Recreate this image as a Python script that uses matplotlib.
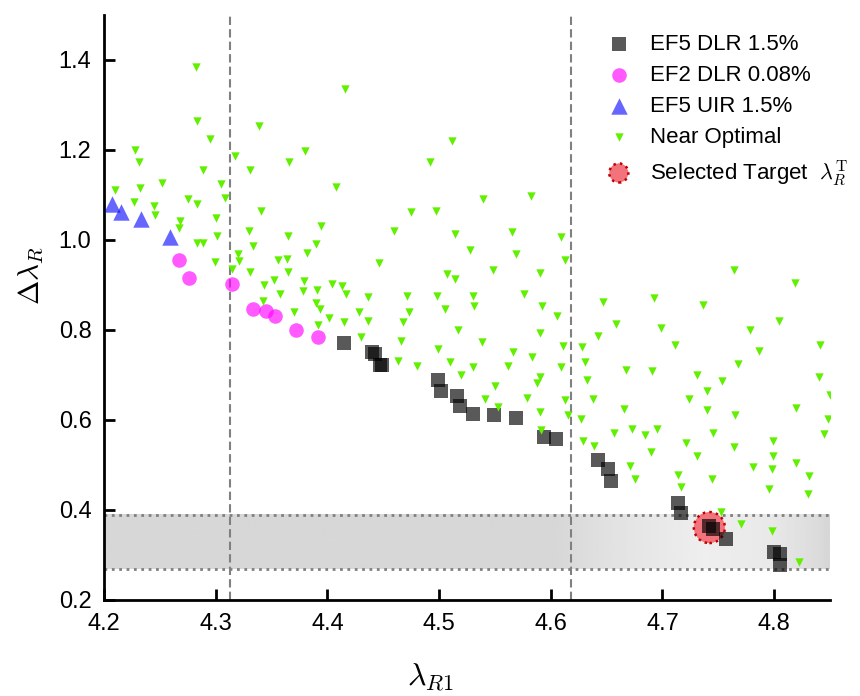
import numpy as np
import matplotlib
matplotlib.use("Agg")
import matplotlib.pyplot as plt

plt.rcParams['font.family'] = ['Liberation Sans', 'DejaVu Sans']
plt.rcParams['mathtext.fontset'] = 'cm'

# EF5 DLR 1.5%
sq_x = [4.415, 4.440, 4.443, 4.447, 4.449, 4.499, 4.502, 4.516, 4.519, 4.530, 4.549,
        4.569, 4.594, 4.605, 4.642, 4.651, 4.654, 4.714, 4.717, 4.742, 4.745, 4.757,
        4.800, 4.805, 4.805]
sq_y = [0.771, 0.752, 0.747, 0.722, 0.722, 0.689, 0.664, 0.654, 0.631, 0.613, 0.611,
        0.604, 0.563, 0.558, 0.511, 0.491, 0.464, 0.415, 0.393, 0.364, 0.358, 0.336,
        0.307, 0.302, 0.278]

# EF2 DLR 0.08%
ci_x = [4.267, 4.276, 4.315, 4.333, 4.345, 4.353, 4.372, 4.392]
ci_y = [0.955, 0.916, 0.902, 0.847, 0.843, 0.832, 0.800, 0.784]

# EF5 UIR 1.5%
tr_x = [4.207, 4.215, 4.233, 4.259]
tr_y = [1.081, 1.063, 1.046, 1.007]

# Near Optimal
near_x = [4.282, 4.283, 4.339, 4.295, 4.228, 4.380, 4.317, 4.231, 4.366, 4.289, 4.331,
          4.252, 4.305, 4.408, 4.210, 4.232, 4.308, 4.275, 4.227, 4.283, 4.245, 4.341,
          4.246, 4.300, 4.268, 4.267, 4.394, 4.330, 4.301, 4.365,
          4.283, 4.289, 4.333, 4.390, 4.320, 4.382, 4.299, 4.321, 4.356, 4.364, 4.315,
          4.331, 4.365, 4.352, 4.343, 4.379, 4.404, 4.378, 4.391, 4.358, 4.342, 4.390,
          4.393, 4.370, 4.401, 4.392,
          4.416, 4.512, 4.492, 4.539, 4.582, 4.475, 4.497, 4.460, 4.514, 4.565, 4.609,
          4.528, 4.569, 4.613, 4.446, 4.548, 4.590, 4.507, 4.514, 4.413, 4.417, 4.436,
          4.471, 4.498, 4.530, 4.576, 4.531, 4.505, 4.592, 4.473, 4.428, 4.415, 4.436,
          4.468, 4.606, 4.517, 4.590, 4.430, 4.466, 4.538, 4.499, 4.566, 4.611, 4.583,
          4.463, 4.510, 4.480, 4.530, 4.562, 4.609, 4.520, 4.590, 4.588, 4.550, 4.541,
          4.579, 4.613, 4.553, 4.590, 4.615, 4.591,
          4.764, 4.819, 4.647, 4.692, 4.736, 4.658, 4.699, 4.778, 4.804, 4.642, 4.628,
          4.711, 4.841, 4.786, 4.631, 4.667, 4.691, 4.768, 4.731, 4.632, 4.753, 4.840,
          4.740, 4.638, 4.724, 4.850, 4.666, 4.740, 4.820, 4.627, 4.765, 4.848,
          4.657, 4.673, 4.684, 4.695, 4.745, 4.845, 4.629, 4.639, 4.690, 4.721, 4.764,
          4.799, 4.731, 4.799, 4.671, 4.781, 4.798, 4.820, 4.675, 4.714, 4.744, 4.831,
          4.717, 4.795, 4.830, 4.752, 4.770, 4.798, 4.822]
near_y = [1.384, 1.265, 1.254, 1.224, 1.200, 1.198, 1.187, 1.173, 1.173, 1.156, 1.156,
          1.127, 1.124, 1.118, 1.112, 1.116, 1.094, 1.090, 1.084, 1.079, 1.075, 1.065,
          1.055, 1.049, 1.043, 1.027, 1.030, 1.020, 1.009, 1.009,
          0.993, 0.993, 0.987, 0.990, 0.968, 0.970, 0.952, 0.953, 0.956, 0.958, 0.935,
          0.928, 0.928, 0.911, 0.900, 0.908, 0.902, 0.886, 0.889, 0.880, 0.864, 0.861,
          0.847, 0.839, 0.827, 0.810,
          1.336, 1.219, 1.173, 1.090, 1.097, 1.063, 1.064, 1.019, 1.013, 1.018, 1.006,
          0.978, 0.968, 0.956, 0.949, 0.933, 0.926, 0.925, 0.913, 0.898, 0.880, 0.874,
          0.875, 0.876, 0.876, 0.880, 0.853, 0.847, 0.853, 0.839, 0.839, 0.818, 0.819,
          0.818, 0.831, 0.800, 0.793, 0.785, 0.776, 0.773, 0.758, 0.752, 0.764, 0.741,
          0.731, 0.728, 0.719, 0.718, 0.719, 0.718, 0.699, 0.696, 0.682, 0.676, 0.647,
          0.648, 0.644, 0.629, 0.618, 0.611, 0.578,
          0.933, 0.905, 0.862, 0.870, 0.855, 0.813, 0.804, 0.801, 0.820, 0.787, 0.763,
          0.767, 0.767, 0.753, 0.729, 0.712, 0.708, 0.724, 0.701, 0.688, 0.687, 0.695,
          0.665, 0.647, 0.646, 0.656, 0.624, 0.622, 0.626, 0.602, 0.610, 0.602,
          0.571, 0.579, 0.567, 0.581, 0.571, 0.570, 0.553, 0.542, 0.529, 0.548, 0.539,
          0.553, 0.521, 0.519, 0.498, 0.495, 0.491, 0.504, 0.468, 0.477, 0.470, 0.476,
          0.452, 0.446, 0.436, 0.396, 0.369, 0.354, 0.285]

target_x = [4.742]
target_y = [0.361]

vlines = [4.313, 4.618]
band = [0.268, 0.390]

fig = plt.figure(figsize=(8.6, 6.96), dpi=100)
ax = fig.add_axes([104 / 860, 1 - 600 / 696, 726 / 860, 585 / 696])
ax.set_xlim(4.2, 4.85)
ax.set_ylim(0.2, 1.5)

# grey band with a light horizontal shading on the right
gx = np.linspace(4.2, 4.85, 400)
gv = np.interp(gx, [4.2, 4.6, 4.66, 4.74, 4.8, 4.84, 4.85],
               [0.84, 0.84, 0.89, 0.935, 0.91, 0.86, 0.84])
ax.imshow(gv[None, :], cmap='gray', vmin=0, vmax=1, aspect='auto',
          extent=[4.2, 4.85, band[0], band[1]], zorder=0, interpolation='bilinear')
ax.axhline(band[0], color='#808080', ls=':', lw=2, zorder=1)
ax.axhline(band[1], color='#808080', ls=':', lw=2, zorder=1)
for v in vlines:
    ax.axvline(v, color='#808080', ls=(0, (4, 2)), lw=1.5, zorder=1)

ax.scatter(target_x, target_y, s=500, marker='o', facecolor='#f2737b',
           edgecolor='#c00000', linestyle=':', linewidth=1.8, zorder=2,
           label=r'Selected Target  $\lambda_R^{\mathrm{T}}$')
ax.scatter(sq_x, sq_y, s=90, marker='s', color='black', alpha=0.65, linewidths=0,
           zorder=3, label='EF5 DLR 1.5%')
ax.scatter(ci_x, ci_y, s=110, marker='o', color='magenta', alpha=0.65, linewidths=0,
           zorder=3, label='EF2 DLR 0.08%')
ax.scatter(tr_x, tr_y, s=140, marker='^', color='blue', alpha=0.6, linewidths=0,
           zorder=3, label='EF5 UIR 1.5%')
ax.scatter(near_x, near_y, s=36, marker='v', color='#60f000', linewidths=0,
           zorder=4, label='Near Optimal')

h, l = ax.get_legend_handles_labels()
order = [1, 2, 3, 4, 0]
leg = ax.legend([h[i] for i in order], [l[i] for i in order], loc='upper left',
                bbox_to_anchor=(601 / 860, 1 - 34 / 696), bbox_transform=fig.transFigure,
                frameon=False, fontsize=16, labelspacing=0.45, handletextpad=0.6,
                handlelength=1.6, borderpad=0, borderaxespad=0)
leg.legend_handles[4].set_sizes([190])  # smaller circle in the legend

ax.set_xticks([4.2, 4.3, 4.4, 4.5, 4.6, 4.7, 4.8])
ax.set_yticks([0.2, 0.4, 0.6, 0.8, 1.0, 1.2, 1.4])
ax.xaxis.set_major_formatter(matplotlib.ticker.FormatStrFormatter('%.1f'))
ax.yaxis.set_major_formatter(matplotlib.ticker.FormatStrFormatter('%.1f'))
ax.tick_params(direction='in', length=8, width=2, labelsize=17, pad=9)
for s in ['top', 'right']:
    ax.spines[s].set_visible(False)
for s in ['left', 'bottom']:
    ax.spines[s].set_linewidth(2)

ax.set_xlabel(r'$\lambda_{R1}$', fontsize=23)
ax.set_ylabel(r'$\Delta\lambda_R$', fontsize=21)
ax.xaxis.set_label_coords(0.45, -0.105)
ax.yaxis.set_label_coords(-0.08, 0.555)

plt.savefig('out.png', dpi=100)
